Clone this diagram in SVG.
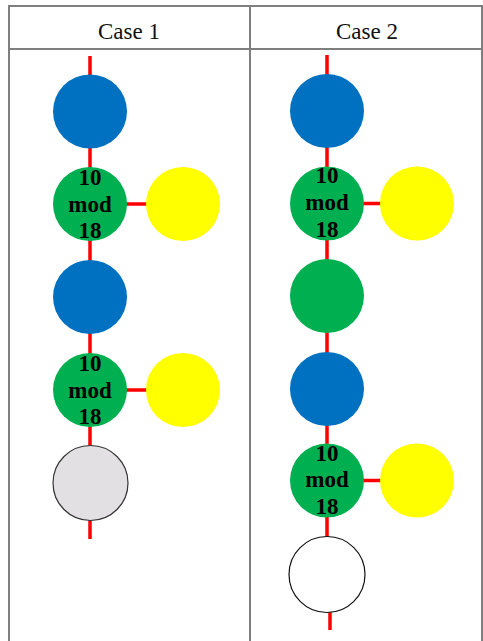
<svg xmlns="http://www.w3.org/2000/svg" width="483" height="641" viewBox="0 0 483 641">
<style>
.frame{fill:none;stroke:#7f7f7f;stroke-width:2}
.hdr{font-family:"Liberation Serif",serif;font-size:23px;fill:#111;text-anchor:middle}
.lbl{font-family:"Liberation Serif",serif;font-size:23px;font-weight:bold;fill:#000;text-anchor:middle}
.edge{stroke:#ff0000;stroke-width:3.5;fill:none}
.blue{fill:#0070c0}
.green{fill:#00b050}
.yellow{fill:#ffff00}
.gray{fill:#e2e0e2;stroke:#333;stroke-width:1.2}
.white{fill:#fff;stroke:#111;stroke-width:1.2}
</style>
<rect x="0" y="0" width="483" height="641" fill="#fff"/>
<g id="table">
<path class="frame" d="M9,641 V6 H482 V641 M250,6 V641 M9,49 H482"/>
<text class="hdr" x="129" y="39">Case 1</text>
<text class="hdr" x="367" y="39">Case 2</text>
</g>
<g id="connectors">
<line class="edge" x1="90" y1="56" x2="90" y2="483"/>
<line class="edge" x1="90" y1="483" x2="90" y2="539"/>
<line class="edge" x1="90" y1="204" x2="183" y2="204"/>
<line class="edge" x1="90" y1="390" x2="183" y2="390"/>
<line class="edge" x1="327" y1="55" x2="327" y2="574"/>
<line class="edge" x1="330" y1="574" x2="330" y2="630"/>
<line class="edge" x1="327" y1="203.5" x2="417" y2="203.5"/>
<line class="edge" x1="327" y1="480.5" x2="417" y2="480.5"/>
</g>
<g id="c1-blue1"><circle class="blue" cx="90" cy="111.5" r="37"/></g>
<g id="c1-green1"><circle class="green" cx="90" cy="204" r="37"/>
<text class="lbl" x="90" y="185">10</text><text class="lbl" x="90" y="212">mod</text><text class="lbl" x="90" y="238">18</text></g>
<g id="c1-yellow1"><circle class="yellow" cx="183" cy="204" r="37"/></g>
<g id="c1-blue2"><circle class="blue" cx="90" cy="297" r="37"/></g>
<g id="c1-green2"><circle class="green" cx="90" cy="390" r="37"/>
<text class="lbl" x="90" y="371">10</text><text class="lbl" x="90" y="398">mod</text><text class="lbl" x="90" y="424">18</text></g>
<g id="c1-yellow2"><circle class="yellow" cx="183" cy="390" r="37"/></g>
<g id="c1-gray"><circle class="gray" cx="90.5" cy="483" r="37.5"/></g>
<g id="c2-blue1"><circle class="blue" cx="327" cy="111" r="37"/></g>
<g id="c2-green1"><circle class="green" cx="327" cy="203.5" r="37"/>
<text class="lbl" x="327" y="183">10</text><text class="lbl" x="327" y="210">mod</text><text class="lbl" x="327" y="236.5">18</text></g>
<g id="c2-yellow1"><circle class="yellow" cx="417" cy="203.5" r="37"/></g>
<g id="c2-green2"><circle class="green" cx="327" cy="296" r="37"/></g>
<g id="c2-blue2"><circle class="blue" cx="327" cy="389" r="37"/></g>
<g id="c2-green3"><circle class="green" cx="327" cy="480.5" r="37"/>
<text class="lbl" x="327" y="461">10</text><text class="lbl" x="327" y="487">mod</text><text class="lbl" x="327" y="514">18</text></g>
<g id="c2-yellow2"><circle class="yellow" cx="417" cy="480.5" r="37"/></g>
<g id="c2-white"><circle class="white" cx="327" cy="574.5" r="38"/></g>
</svg>
